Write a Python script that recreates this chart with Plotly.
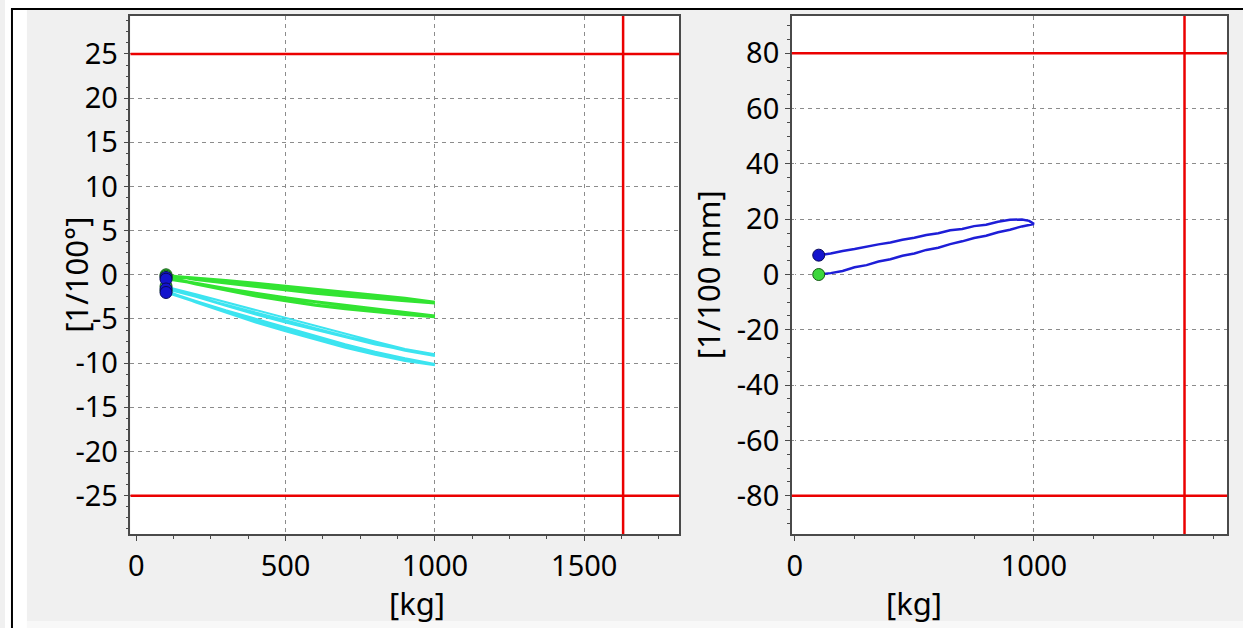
import plotly.graph_objects as go

# ---------------- data ----------------
# left chart: angle [1/100 deg] vs load [kg], two load cycles per channel
KG_LEFT = [100, 200, 300, 400, 500, 600, 700, 800, 900, 1000, 900, 800, 700, 600, 500, 400, 300, 200, 100,
           200, 300, 400, 500, 600, 700, 800, 900, 1000, 900, 800, 700, 600, 500, 400, 300, 200, 100]

GREEN_A = [0.0, -0.45, -0.85, -1.25, -1.6, -1.95, -2.25, -2.55, -2.8, -3.05,
           -2.6, -2.25, -1.9, -1.55, -1.2, -0.9, -0.6, -0.3, -0.05,
           -0.6, -1.0, -1.4, -1.8, -2.15, -2.45, -2.75, -3.0, -3.25,
           -2.75, -2.4, -2.05, -1.7, -1.35, -1.05, -0.75, -0.45, -0.3]

GREEN_B = [-0.15, -0.95, -1.65, -2.3, -2.85, -3.35, -3.75, -4.1, -4.4, -4.6,
           -4.2, -3.85, -3.45, -3.0, -2.55, -2.05, -1.5, -0.9, -0.3,
           -1.1, -1.8, -2.45, -3.0, -3.5, -3.9, -4.25, -4.55, -4.8,
           -4.3, -3.95, -3.55, -3.1, -2.65, -2.15, -1.6, -1.0, -0.5]

CYAN_A = [-1.3, -2.4, -3.4, -4.4, -5.3, -6.1, -6.95, -7.75, -8.4, -9.0,
          -8.4, -7.55, -6.65, -5.75, -4.85, -3.95, -3.05, -2.2, -1.35,
          -2.5, -3.5, -4.5, -5.4, -6.25, -7.1, -7.9, -8.55, -9.2,
          -8.6, -7.8, -6.95, -6.05, -5.15, -4.25, -3.35, -2.45, -1.6]

CYAN_B = [-1.8, -3.05, -4.2, -5.3, -6.3, -7.25, -8.15, -8.95, -9.6, -10.1,
          -9.45, -8.7, -7.85, -6.9, -5.95, -5.0, -4.0, -2.95, -1.85,
          -3.15, -4.3, -5.4, -6.4, -7.35, -8.25, -9.05, -9.75, -10.25,
          -9.6, -8.85, -8.0, -7.05, -6.1, -5.15, -4.15, -3.1, -2.0]

# right chart: displacement [1/100 mm] vs load [kg]
KG_RIGHT = [100, 150, 200, 250, 300, 350, 400, 450, 500, 550, 600, 650, 700, 750, 800, 850, 900, 950, 1000,
            980, 950, 900, 850, 800, 750, 700, 650, 600, 550, 500, 450, 400, 350, 300, 250, 200, 150, 100]
DISP_RIGHT = [0.0, 0.5, 1.3, 2.6, 3.4, 4.7, 5.5, 6.8, 7.6, 8.9, 9.7, 11.0, 12.0, 13.2, 14.0, 15.3, 16.2, 17.4, 18.3,
              19.4, 19.9, 19.8, 19.1, 18.0, 17.5, 16.5, 16.0, 14.9, 14.3, 13.3, 12.6, 11.6, 10.9, 10.0, 9.2, 8.5, 7.6, 7.0]

# limit values
LEFT_LIMITS = [25, -25]
RIGHT_LIMITS = [80, -80]
LOAD_LIMIT = 1630

LEFT_TICKS = [-25, -20, -15, -10, -5, 0, 5, 10, 15, 20, 25]
RIGHT_TICKS = [-80, -60, -40, -20, 0, 20, 40, 60, 80]
LEFT_X_TICKS = [0, 500, 1000, 1500]
RIGHT_X_TICKS = [0, 1000]

# ---------------- style ----------------
W, H = 1243, 628
FONT = "Noto Sans"
FS = 29
FT = 31
GREEN = "rgb(50,228,50)"
CYAN = "rgb(60,228,240)"
BLUE = "rgb(30,30,215)"
RED = "rgb(235,0,0)"

fig = go.Figure()

for ys, col in [(GREEN_A, GREEN), (GREEN_B, GREEN), (CYAN_A, CYAN), (CYAN_B, CYAN)]:
    fig.add_trace(go.Scatter(x=KG_LEFT, y=ys, mode="lines", line=dict(color=col, width=2),
                             xaxis="x", yaxis="y", showlegend=False, hoverinfo="skip"))
# start (green) and end (blue) markers
for ys in [GREEN_A, GREEN_B, CYAN_A, CYAN_B]:
    fig.add_trace(go.Scatter(x=[KG_LEFT[0]], y=[ys[0]], mode="markers",
                             marker=dict(color="rgb(60,215,60)", size=12, line=dict(color="rgb(20,90,20)", width=1)),
                             xaxis="x", yaxis="y", showlegend=False))
for ys in [GREEN_A, GREEN_B, CYAN_A, CYAN_B]:
    fig.add_trace(go.Scatter(x=[KG_LEFT[-1]], y=[ys[-1]], mode="markers",
                             marker=dict(color="rgb(20,20,205)", size=12, line=dict(color="rgb(10,10,90)", width=1)),
                             xaxis="x", yaxis="y", showlegend=False))

fig.add_trace(go.Scatter(x=KG_RIGHT, y=DISP_RIGHT, mode="lines", line=dict(color=BLUE, width=2.5),
                         xaxis="x2", yaxis="y2", showlegend=False))
fig.add_trace(go.Scatter(x=[KG_RIGHT[0]], y=[DISP_RIGHT[0]], mode="markers",
                         marker=dict(color="rgb(60,215,60)", size=12, line=dict(color="rgb(20,90,20)", width=1)),
                         xaxis="x2", yaxis="y2", showlegend=False))
fig.add_trace(go.Scatter(x=[KG_RIGHT[-1]], y=[DISP_RIGHT[-1]], mode="markers",
                         marker=dict(color="rgb(20,20,205)", size=12, line=dict(color="rgb(10,10,90)", width=1)),
                         xaxis="x2", yaxis="y2", showlegend=False))

shapes = []
# window decoration
shapes.append(dict(type="rect", xref="paper", yref="paper", x0=0, x1=1, y0=(H - 9) / H, y1=1,
                   fillcolor="white", line=dict(width=0), layer="below"))
shapes.append(dict(type="rect", xref="paper", yref="paper", x0=0, x1=22 / W, y0=0, y1=1,
                   fillcolor="white", line=dict(width=0), layer="below"))
shapes.append(dict(type="rect", xref="paper", yref="paper", x0=22 / W, x1=1, y0=0, y1=7 / H,
                   fillcolor="#f8f8f8", line=dict(width=0), layer="below"))
shapes.append(dict(type="line", xref="paper", yref="paper", x0=6 / W, x1=1, y0=(H - 9) / H, y1=(H - 9) / H,
                   line=dict(color="black", width=2)))
shapes.append(dict(type="line", xref="paper", yref="paper", x0=7 / W, x1=7 / W, y0=0, y1=(H - 9) / H,
                   line=dict(color="black", width=2)))
# limit lines
for v in LEFT_LIMITS:
    shapes.append(dict(type="line", xref="x domain", yref="y", x0=0, x1=1, y0=v, y1=v,
                       line=dict(color=RED, width=2.5)))
shapes.append(dict(type="line", xref="x", yref="y domain", x0=LOAD_LIMIT, x1=LOAD_LIMIT, y0=0, y1=1,
                   line=dict(color=RED, width=2.5)))
for v in RIGHT_LIMITS:
    shapes.append(dict(type="line", xref="x2 domain", yref="y2", x0=0, x1=1, y0=v, y1=v,
                       line=dict(color=RED, width=2.5)))
shapes.append(dict(type="line", xref="x2", yref="y2 domain", x0=LOAD_LIMIT, x1=LOAD_LIMIT, y0=0, y1=1,
                   line=dict(color=RED, width=2.5)))

ydom = [(H - 534) / H, (H - 16) / H]
axis_common = dict(
    showline=True, linecolor="#4a4a4a", linewidth=1.5, mirror=True,
    ticks="outside", ticklen=5, tickcolor="#4a4a4a", tickwidth=1,
    showgrid=True, gridcolor="#8c8c8c", gridwidth=1, griddash="4px,4px",
    tickfont=dict(family=FONT, size=FS, color="black"),
)
minor_common = dict(ticks="outside", ticklen=3, tickcolor="#4a4a4a", showgrid=False)


def lbl(vals):
    return [str(v) for v in vals]


fig.update_layout(
    width=W, height=H, autosize=False,
    margin=dict(l=0, r=0, t=0, b=0, pad=0),
    paper_bgcolor="#f0f0f0", plot_bgcolor="white",
    showlegend=False,
    xaxis=dict(domain=[126 / W, 677 / W], range=[-19, 1818], tickvals=LEFT_X_TICKS, ticktext=lbl(LEFT_X_TICKS),
               zeroline=True, zerolinecolor="white", zerolinewidth=1,
               minor=dict(minor_common, dtick=125, tick0=0), **axis_common),
    yaxis=dict(domain=ydom, range=[-29.34, 29.3], tickvals=LEFT_TICKS, ticktext=lbl(LEFT_TICKS), zeroline=False,
               minor=dict(minor_common, dtick=1.25, tick0=0), **axis_common),
    xaxis2=dict(domain=[790 / W, 1227 / W], range=[-12.5, 1808], tickvals=RIGHT_X_TICKS, ticktext=lbl(RIGHT_X_TICKS),
                anchor="y2", zeroline=True, zerolinecolor="white", zerolinewidth=1,
                minor=dict(minor_common, dtick=250, tick0=0), **axis_common),
    yaxis2=dict(domain=ydom, range=[-93.85, 93.5], tickvals=RIGHT_TICKS, ticktext=lbl(RIGHT_TICKS), anchor="x2",
                zeroline=False, minor=dict(minor_common, dtick=5, tick0=0), **axis_common),
    shapes=shapes,
    annotations=[
        dict(text="[kg]", xref="paper", yref="paper", x=414 / W, y=(H - 603) / H, showarrow=False,
             font=dict(family=FONT, size=FT, color="black"), xanchor="center", yanchor="middle"),
        dict(text="[kg]", xref="paper", yref="paper", x=913 / W, y=(H - 603) / H, showarrow=False,
             font=dict(family=FONT, size=FT, color="black"), xanchor="center", yanchor="middle"),
        dict(text="[1/100°]", xref="paper", yref="paper", x=71 / W, y=(H - 275) / H, showarrow=False,
             textangle=-90, font=dict(family=FONT, size=FT, color="black"), xanchor="center", yanchor="middle"),
        dict(text="[1/100 mm]", xref="paper", yref="paper", x=706 / W, y=(H - 275) / H, showarrow=False,
             textangle=-90, font=dict(family=FONT, size=FT, color="black"), xanchor="center", yanchor="middle"),
    ],
)

fig.write_html("out.html")
